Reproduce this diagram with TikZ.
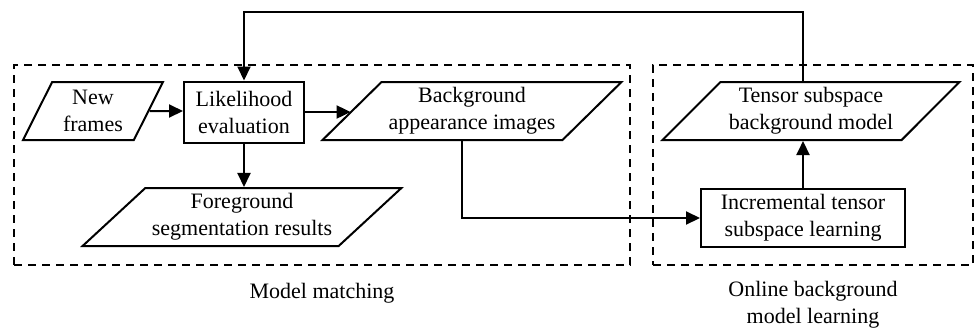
\documentclass[tikz,border=0pt]{standalone}
\usepackage{fontspec}
\setmainfont{Liberation Serif}
\usetikzlibrary{shapes.geometric,arrows.meta,positioning}

\begin{document}
\begin{tikzpicture}[x=0.5pt, y=-0.5pt, line width=1pt,
		>={Triangle[length=7pt,width=6.5pt]},
		font=\fontsize{11}{13.5}\selectfont,
		block/.style={draw, align=center, inner sep=2pt},
		para/.style={draw, trapezium, trapezium stretches=true, align=center, inner sep=2pt, minimum height=29pt},
		group/.style={draw, dash pattern=on 4pt off 3pt, line width=0.8pt}]
		\useasboundingbox (0,0) rectangle (977,333);
		
		% Draw the dashed groups
		\node (matching) [group, minimum width=308pt, minimum height=100pt] at (322,165) {};
		\node (online) [group, minimum width=160pt, minimum height=100pt] at (813,165) {};
		\node (matchlabel) [below=5pt of matching] {Model matching};
		\node (onlinelabel) [below=4pt of online, align=center] {Online background\\model learning};
		
		% Draw the model matching blocks
		\node (frames) [para, trapezium left angle=64, trapezium right angle=116, minimum width=70pt] at (93,111) {New\\frames};
		\node (lik) [block, minimum width=60pt, minimum height=30.5pt] at (244,112) {Likelihood\\evaluation};
		\node (bg) [para, trapezium left angle=44, trapezium right angle=136, minimum width=149.5pt] at (472,111) {Background\\appearance images};
		\node (fg) [para, trapezium left angle=42, trapezium right angle=138, minimum width=159.5pt] at (242,217) {Foreground\\segmentation results};
		
		% Draw the online learning blocks
		\node (tensor) [para, trapezium left angle=45, trapezium right angle=135, minimum width=148.5pt] at (811,111) {Tensor subspace\\background model};
		\node (inc) [block, minimum width=102pt, minimum height=29pt] at (803,218) {Incremental tensor\\subspace learning};
		\coordinate (loop) at (500,12);
		
		% Connect the blocks with arrows
		\draw[->] (frames) -- (frames -| lik.west);
		\draw[->] (lik) -- (lik -| bg.west);
		\draw[->] (lik) -- (lik |- fg.north);
		\draw[->] ([xshift=-5pt]bg.south) |- (inc);
		\draw[->] (inc) -- (inc |- tensor.south);
		\draw[->] (inc |- tensor.north) |- (loop) -| (lik);
\end{tikzpicture}
\end{document}
